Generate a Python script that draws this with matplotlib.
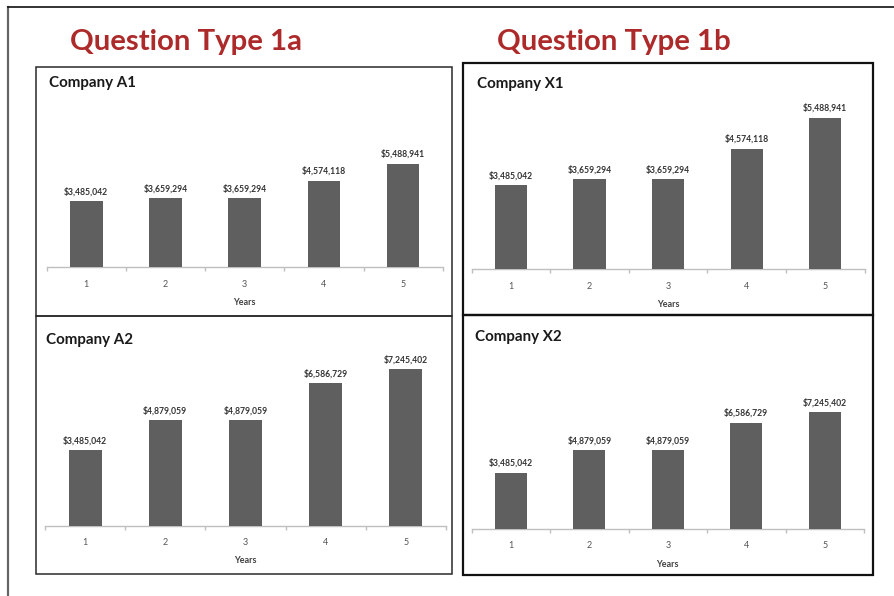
import matplotlib
matplotlib.use("Agg")
import matplotlib.pyplot as plt
from matplotlib.patches import Rectangle
from matplotlib.lines import Line2D

plt.rcParams["font.family"] = ["Lato", "DejaVu Sans"]

# ---- data ----
years = ["1", "2", "3", "4", "5"]
company_a1 = [3485042, 3659294, 3659294, 4574118, 5488941]
company_a2 = [3485042, 4879059, 4879059, 6586729, 7245402]
company_x1 = [3485042, 3659294, 3659294, 4574118, 5488941]
company_x2 = [3485042, 4879059, 4879059, 6586729, 7245402]

W, H = 894, 596
fig = plt.figure(figsize=(W / 100, H / 100), dpi=100)
fig.patch.set_facecolor("white")

BAR = "#5f5f5f"
AXIS = "#bfbfbf"
TITLE_RED = "#ad2a2a"


def fx(x):
    return x / W


def fy(y):
    return 1 - y / H


def add_axes_px(left, right, top, bottom):
    return fig.add_axes([fx(left), fy(bottom), fx(right - left), (bottom - top) / H])


def bar_chart(rect, values, ylim, name, name_xy):
    left, right, top, bottom = rect
    ax = add_axes_px(left, right, top, bottom)
    ax.set_facecolor("none")
    xs = list(range(len(values)))
    bars = ax.bar(xs, values, width=0.41, color=BAR, zorder=3)
    for b, v in zip(bars, values):
        ax.annotate(f"${v:,.0f}", (b.get_x() + b.get_width() / 2, v),
                    xytext=(0, 3.5), textcoords="offset points",
                    ha="center", va="bottom", fontsize=6.2,
                    fontweight="bold", color="#333333", annotation_clip=False)
    ax.set_xlim(-0.5, len(values) - 0.5)
    ax.set_ylim(*ylim)
    for s in ("top", "left", "right"):
        ax.spines[s].set_visible(False)
    ax.spines["bottom"].set_color(AXIS)
    ax.spines["bottom"].set_linewidth(1.0)
    ax.set_yticks([])
    ax.set_xticks(xs)
    ax.set_xticklabels(years)
    ax.tick_params(axis="x", which="major", length=0, pad=9,
                   labelsize=6.5, labelcolor="#555555")
    ax.set_xticks([i - 0.5 for i in range(len(values) + 1)], minor=True)
    ax.tick_params(axis="x", which="minor", length=3, color=AXIS, width=1.0)
    ax.set_xlabel("Years", fontsize=6.5, fontweight="bold",
                  color="#404040", labelpad=6.5)
    fig.text(fx(name_xy[0]), fy(name_xy[1]), name, fontsize=10.9,
             fontweight="bold", color="#1a1a1a", ha="left", va="baseline")
    return ax


# ---- slide frame ----
fig.add_artist(Line2D([fx(8), fx(8)], [fy(7), fy(596)], color="#666666", lw=1.6))
fig.add_artist(Line2D([fx(8), fx(894)], [fy(7), fy(7)], color="#111111", lw=1.2))

# ---- section headings ----
fig.text(fx(70), fy(50), "Question Type 1a", fontsize=21.2, fontweight="bold",
         color=TITLE_RED, ha="left", va="baseline")
fig.text(fx(497), fy(50), "Question Type 1b", fontsize=21.2, fontweight="bold",
         color=TITLE_RED, ha="left", va="baseline")

# ---- chart frames ----
def frame(x0, y0, x1, y1, lw, color):
    fig.add_artist(Rectangle((fx(x0), fy(y1)), fx(x1 - x0), (y1 - y0) / H,
                             fill=False, lw=lw, edgecolor=color,
                             transform=fig.transFigure))

frame(35.5, 67, 452, 316, 1.1, "#2a2a2a")
frame(35.5, 316, 452, 574, 1.1, "#2a2a2a")
frame(463.5, 63.5, 872.5, 314.5, 1.6, "#111111")
frame(463.5, 314.5, 872.5, 575, 1.6, "#111111")

# ---- charts ----
bar_chart((46.7, 442.7, 153.9, 267.3), company_a1, (0, 6e6), "Company A1", (49, 87.3))
bar_chart((45, 446, 352.9, 525.7), company_a2, (0, 8e6), "Company A2", (46, 344))
bar_chart((471.7, 864.5, 100.4, 269.3), company_x1, (1e6, 6e6), "Company X1", (476.7, 88))
bar_chart((471.7, 864, 400.2, 529), company_x2, (0, 8e6), "Company X2", (475, 340.7))

fig.savefig("out.png", dpi=100, facecolor="white")
